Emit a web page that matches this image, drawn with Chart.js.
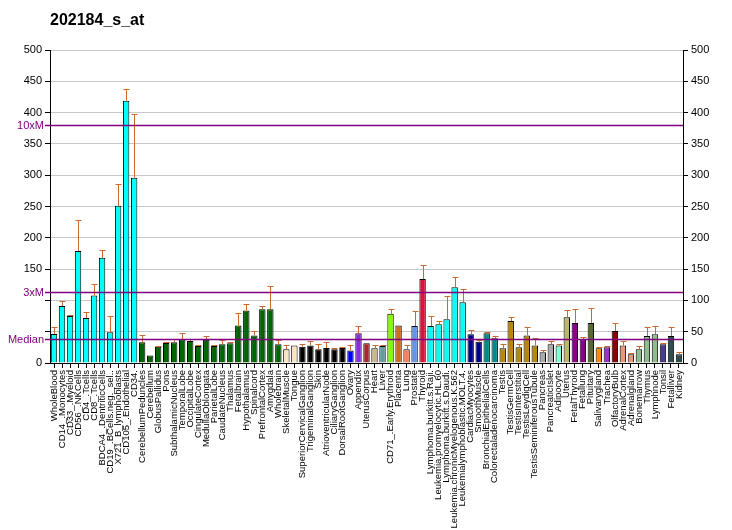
<!DOCTYPE html>
<html>
<head>
<meta charset="utf-8">
<script src="https://cdn.jsdelivr.net/npm/chart.js@4.4.0/dist/chart.umd.min.js"></script>
<style>
  html, body { margin: 0; padding: 0; background: #fff; }
  #wrap { width: 732px; height: 530px; }
</style>
</head>
<body>
<div id="wrap"><canvas id="myExprChart" width="732" height="530"></canvas></div>
<script>
// Expression profile for probe 202184_s_at

var tissues = ['WholeBlood', 'CD14_.Monocytes', 'CD33_.Myeloid', 'CD56_.NKCells', 'CD4_.Tcells', 'CD8_.Tcells',
  'BDCA4_.DentriticCells', 'CD19_.BCells.neg._sel..', 'X721_B_lymphoblasts', 'CD105_.Endothelial', 'CD34.',
  'CerebellumPeduncles', 'Cerebellum', 'GlobusPallidus', 'Pons', 'SubthalamicNucleus', 'TemporalLobe',
  'OccipitalLobe', 'CingulateCortex', 'MedullaOblongata', 'ParietalLobe', 'CaudateNucleus', 'Thalamus',
  'Fetalbrain', 'Hypothalamus', 'Spinalcord', 'PrefrontalCortex', 'Amygdala', 'Wholebrain', 'SkeletalMuscle',
  'Tongue', 'SuperiorCervicalGanglion', 'TrigeminalGanglion', 'Skin', 'AtrioventricularNode', 'CiliaryGanglion',
  'DorsalRootGanglion', 'Ovary', 'Appendix', 'UterusCorpus', 'Heart', 'Liver', 'CD71_.Early.Erythroid',
  'Placenta', 'Lung', 'Prostate', 'Thyroid', 'Lymphoma.burkitt.s.Raji.', 'Leukemia.promyelocytic.HL.60',
  'Lymphoma.burkitt.s.Daudi.', 'Leukemia.chronicMyelogenous.K.562', 'Leukemialymphoblastic.MOLT.4.',
  'CardiacMyocytes', 'SmoothMuscle', 'BronchialEpithelialCells', 'Colorectaladenocarcinoma', 'Testis',
  'TestisGermCell', 'TestisInterstitial', 'TestisLeydigCell', 'TestisSeminiferousTubule', 'Pancreas',
  'PancreaticIslet', 'Adipocyte', 'Uterus', 'FetalThyroid', 'Fetallung', 'Pituitary', 'Salivarygland',
  'Trachea', 'OlfactoryBulb', 'AdrenalCortex', 'Adrenalgland', 'Bonemarrow', 'Thymus', 'Lymphnode', 'Tonsil',
  'Fetalliver', 'Kidney'];

var values = [46.5, 91, 75, 179, 72, 108, 168, 49, 251, 419, 296,
  33, 12, 26, 32, 33, 38, 35, 27, 37, 27, 30, 31.5, 60, 84, 44, 86, 86, 30,
  22, 28, 26, 28, 22, 24, 22, 24, 20, 47.5, 31.5, 23.5, 27,
  78.5, 60, 22, 59, 134, 59, 62, 70, 121, 97,
  46, 34, 47.5, 39.5, 23.5, 67, 25, 44, 28, 17, 30, 28,
  73, 64, 38, 64, 23.5, 25, 51, 28, 14, 22, 43, 46, 30, 43, 14];

// top of each error whisker (null = no whisker)
var errorTop = [57, 99, 76, 229, 81, 126, 180, 75, 286, 437, 397,
  44, null, 27, 34, 38, 48, 38, 29, 43, 29, 36, 33, 80, 94, 51, 91, 123, 36,
  28, null, 30, 35, 30, 33, 23.5, 25, 28, 59, null, 28, 28,
  86, null, 28, 83, 156.5, 75, 67, 107, 137, 118,
  52, 36, 49, 43, 30, 73, 30, 57, 39.5, 20, 35, 30,
  84.5, 86, 41, 88, 25, 27, 64, 35, 15.5, 27, 57, 59, 31.5, 57, 17];

var median = 38;
var refLines = [
  { label: '10xM', value: median * 10 },
  { label: '3xM', value: median * 3 },
  { label: 'Median', value: median },
];

var yTicks = [0, 50, 100, 150, 200, 250, 300, 350, 400, 450, 500];

// colour per bar, by tissue group
var barColors = [].concat(
  Array(11).fill('#00FFFF'),
  Array(18).fill('#006400'),
  Array(2).fill('#FFE4C4'),
  Array(6).fill('#000000'),
  ['#0000FF', '#8A2BE2', '#A52A2A', '#D2B48C', '#5F9EA0', '#7FFF00', '#D2691E', '#FF7F50', '#6495ED', '#DC143C'],
  Array(5).fill('#00FFFF'),
  Array(2).fill('#00008B'),
  Array(2).fill('#008B8B'),
  Array(5).fill('#B8860B'),
  Array(2).fill('#A9A9A9'),
  ['#7FFFD4', '#BDB76B'],
  Array(2).fill('#8B008B'),
  ['#556B2F', '#FF8C00', '#9932CC', '#8B0000'],
  Array(2).fill('#E9967A'),
  Array(3).fill('#8FBC8F'),
  ['#483D8B'],
  Array(2).fill('#2F4F4F')
);

var PurpleColor = '#800080';
var ErrColor = '#CC6A2C';
var tickFont = { family: 'Arial, "Liberation Sans", sans-serif', size: 11 };

var errorBars = {
  id: 'errorBars',
  afterDatasetsDraw: function (chart) {
    var ctx = chart.ctx;
    var y = chart.scales.y;
    var meta = chart.getDatasetMeta(0);
    ctx.save();
    ctx.strokeStyle = ErrColor;
    ctx.lineWidth = 1;
    meta.data.forEach(function (bar, i) {
      if (errorTop[i] == null) return;
      var x = Math.round(bar.x) + 0.5;
      var yt = Math.round(y.getPixelForValue(errorTop[i])) + 0.5;
      ctx.beginPath();
      ctx.moveTo(x, bar.y);
      ctx.lineTo(x, yt);
      ctx.moveTo(x - 3, yt);
      ctx.lineTo(x + 3, yt);
      ctx.stroke();
    });
    ctx.restore();
  }
};

var medianLines = {
  id: 'medianLines',
  afterDatasetsDraw: function (chart) {
    var ctx = chart.ctx;
    var area = chart.chartArea;
    var y = chart.scales.y;
    ctx.save();
    ctx.strokeStyle = PurpleColor;
    ctx.fillStyle = PurpleColor;
    ctx.lineWidth = 1.3;
    ctx.font = '11px Arial, "Liberation Sans", sans-serif';
    ctx.textAlign = 'right';
    ctx.textBaseline = 'middle';
    refLines.forEach(function (r) {
      var py = Math.round(y.getPixelForValue(r.value)) + 0.5;
      ctx.beginPath();
      ctx.moveTo(area.left - 5, py);
      ctx.lineTo(area.right, py);
      ctx.stroke();
      ctx.fillText(r.label, area.left - 6, py);
    });
    ctx.restore();
  }
};

var ctx = document.getElementById('myExprChart').getContext('2d');
var myExprChart = new Chart(ctx, {
  type: 'bar',
  data: {
    labels: tissues,
    datasets: [{
      data: values,
      backgroundColor: barColors,
      borderColor: '#000000',
      borderWidth: 1,
      barPercentage: 0.8,
      categoryPercentage: 1.0,
    }],
  },
  options: {
    responsive: false,
    animation: false,
    layout: { padding: 0 },
    plugins: {
      legend: { display: false },
      tooltip: { enabled: false },
      title: {
        display: true,
        text: '202184_s_at',
        align: 'start',
        fullSize: false,
        color: '#000',
        font: { family: 'Arial, "Liberation Sans", sans-serif', size: 16, weight: 'bold', lineHeight: 1.2 },
        padding: { top: 11, bottom: 19.8 },
      },
    },
    scales: {
      x: {
        grid: { display: true, offset: false, drawOnChartArea: false, drawTicks: true, tickLength: 5, color: '#000' },
        border: { display: true, color: '#000' },
        ticks: {
          autoSkip: false, maxRotation: 90, minRotation: 90, padding: 2, color: '#000',
          font: { family: 'Arial, "Liberation Sans", sans-serif', size: 9.5 },
        },
        afterFit: function (scale) { scale.height = 167; },
      },
      y: {
        position: 'left',
        min: 0, max: 500,
        afterBuildTicks: function (scale) { scale.ticks = yTicks.map(function (v) { return { value: v }; }); },
        ticks: {
          color: '#000', padding: 3, font: tickFont,
          callback: function (v) { return (v === 50 || v === 100) ? '' : v; },
        },
        grid: { color: '#C8C8C8', tickColor: '#000', tickLength: 5 },
        border: { display: true, color: '#000' },
        afterFit: function (scale) { scale.width = 50; },
      },
      y2: {
        position: 'right',
        min: 0, max: 500,
        afterBuildTicks: function (scale) { scale.ticks = yTicks.map(function (v) { return { value: v }; }); },
        ticks: { color: '#000', padding: 3, font: tickFont },
        grid: { drawOnChartArea: false, tickColor: '#000', tickLength: 5 },
        border: { display: true, color: '#000' },
        afterFit: function (scale) { scale.width = 49; },
      },
    },
  },
  plugins: [errorBars, medianLines],
});
</script>
</body>
</html>
